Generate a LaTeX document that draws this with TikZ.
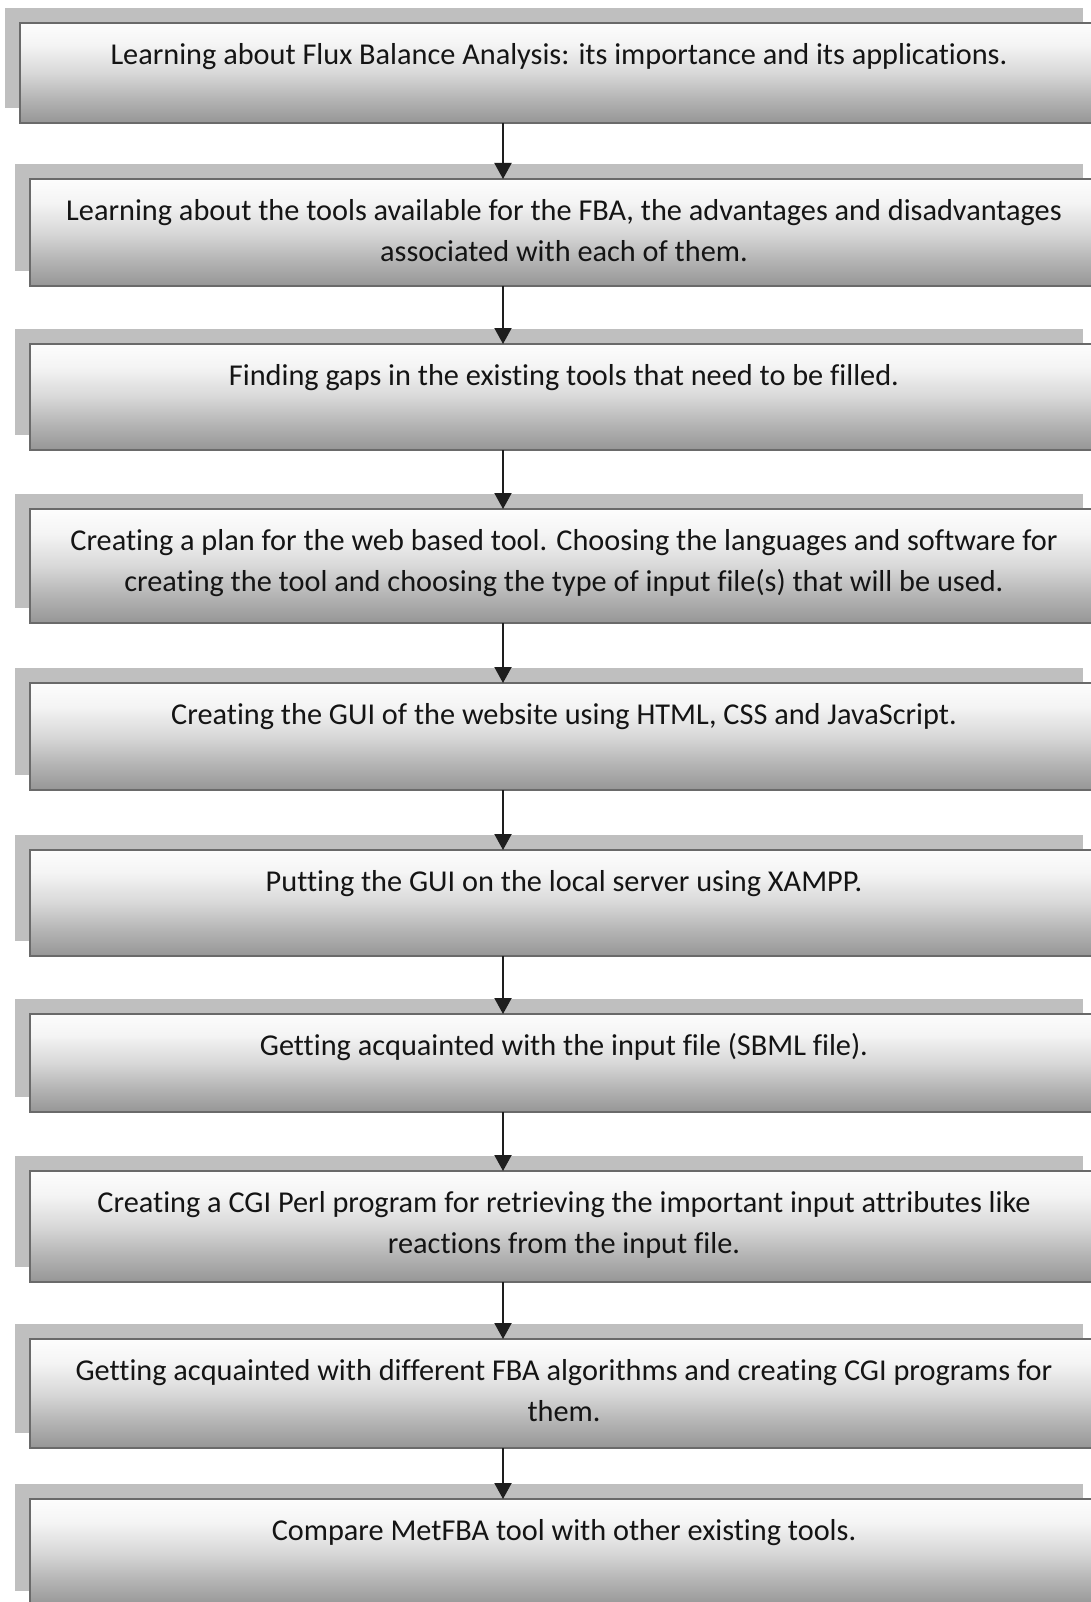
\documentclass[tikz,border=0pt]{standalone}
\usepackage{fontspec}
\setmainfont{Carlito}[Ligatures=NoCommon]
\usetikzlibrary{arrows.meta}
\definecolor{shadowgray}{HTML}{BFBFBF}
\definecolor{bordergray}{HTML}{6A6A6A}
\definecolor{arrowgray}{HTML}{1E1E1E}
\definecolor{shA}{HTML}{FDFDFD}
\definecolor{shB}{HTML}{F4F4F4}
\definecolor{shC}{HTML}{D8D8D8}
\definecolor{shD}{HTML}{B4B4B4}
\definecolor{shE}{HTML}{969696}
\pgfdeclareverticalshading{boxshade}{100bp}{color(0bp)=(shE); color(25bp)=(shE); color(37bp)=(shD); color(50bp)=(shC); color(64bp)=(shB); color(75bp)=(shA); color(100bp)=(shA)}
\newlength\reflen
\tikzset{
  shadowbox/.style={rectangle, fill=shadowgray, draw=none, inner sep=0pt, outer sep=0pt},
  mainbox/.style={rectangle, shading=boxshade, draw=bordergray, line width=2pt, inner sep=0pt, outer sep=0pt},
  txt/.style={anchor=north, align=center, inner sep=0pt, text=black!92, font=\fontsize{\fsz}{41}\selectfont},
  arr/.style={draw=arrowgray, line width=2pt, -{Triangle[width=17pt,length=16pt]}}
}
\newcommand\flowbox[5]{%
  \pgfmathsetmacro\fbW{1098-#2}%
  \pgfmathsetmacro\fbH{#4-#3}%
  \pgfmathsetmacro\fbX{(#2+1098)/2}%
  \pgfmathsetmacro\fbY{(#3+#4)/2}%
  \node[shadowbox, minimum width=\fbW pt, minimum height=\fbH pt] (#1s) at (\fbX-15,\fbY-15) {};
  \node[mainbox, minimum width=\fbW pt, minimum height=\fbH pt] (#1) at (\fbX,\fbY) {};
  \node[txt] (#1t) at ([yshift=-13pt]#1.north) {\strut #5};
}
\begin{document}
\settowidth\reflen{\fontsize{10}{12}\selectfont Learning about Flux Balance Analysis: its importance and its applications.}%
\pgfmathsetmacro\fsz{10*897/\reflen}%
\begin{tikzpicture}[x=1pt,y=-1pt]
\useasboundingbox (0,0) rectangle (1091,1602);
\clip (0,0) rectangle (1091,1602);
\fill[white] (0,0) rectangle (1091,1602);
\flowbox{b1}{20}{23}{123}{Learning about Flux Balance Analysis: its importance and its applications.}
\flowbox{b2}{30}{179}{286}{Learning about the tools available for the FBA, the advantages and disadvantages\\associated with each of them.}
\flowbox{b3}{30}{344}{450}{Finding gaps in the existing tools that need to be filled.}
\flowbox{b4}{30}{509}{623}{Creating a plan for the web based tool. Choosing the languages and software for\\creating the tool and choosing the type of input file(s) that will be used.}
\flowbox{b5}{30}{683}{790}{Creating the GUI of the website using HTML, CSS and JavaScript.}
\flowbox{b6}{30}{850}{956}{Putting the GUI on the local server using XAMPP.}
\flowbox{b7}{30}{1014}{1112}{Getting acquainted with the input file (SBML file).}
\flowbox{b8}{30}{1171}{1282}{Creating a CGI Perl program for retrieving the important input attributes like\\reactions from the input file.}
\flowbox{b9}{30}{1339}{1448}{Getting acquainted with different FBA algorithms and creating CGI programs for\\them.}
\flowbox{b10}{30}{1499}{1606}{Compare MetFBA tool with other existing tools.}
\coordinate (ax) at (503,0);
\draw[arr] (ax |- b1.south) -- (ax |- b2.north);
\draw[arr] (ax |- b2.south) -- (ax |- b3.north);
\draw[arr] (ax |- b3.south) -- (ax |- b4.north);
\draw[arr] (ax |- b4.south) -- (ax |- b5.north);
\draw[arr] (ax |- b5.south) -- (ax |- b6.north);
\draw[arr] (ax |- b6.south) -- (ax |- b7.north);
\draw[arr] (ax |- b7.south) -- (ax |- b8.north);
\draw[arr] (ax |- b8.south) -- (ax |- b9.north);
\draw[arr] (ax |- b9.south) -- (ax |- b10.north);
\end{tikzpicture}
\end{document}
